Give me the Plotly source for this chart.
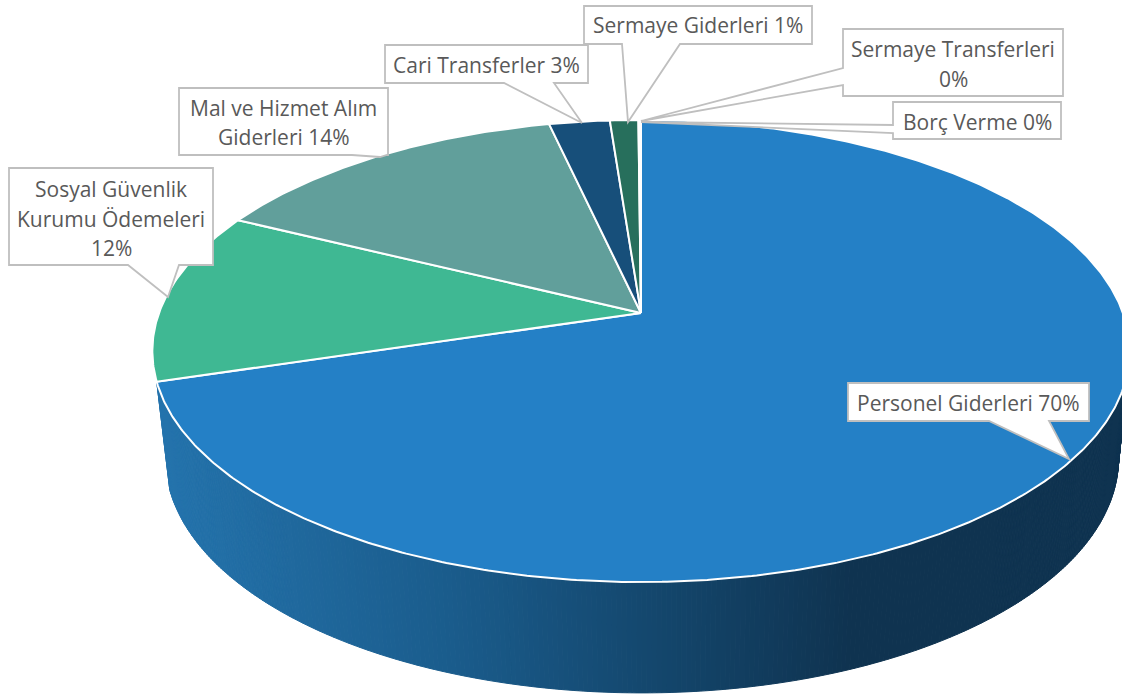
import numpy as np
import plotly.graph_objects as go

# ---- data ----
categories = ["Personel Giderleri", "Sosyal Güvenlik Kurumu Ödemeleri", "Mal ve Hizmet Alım Giderleri",
              "Cari Transferler", "Sermaye Giderleri", "Sermaye Transferleri", "Borç Verme"]
values = [70.3, 12.0, 14.15, 2.35, 1.1, 0.05, 0.05]
percent_labels = ["70%", "12%", "14%", "3%", "1%", "0%", "0%"]
colors = ["#2480C6", "#3FB893", "#619F9B", "#174F7A", "#276F5C", "#2C8A7A", "#2480C6"]

label_text = ["Personel Giderleri 70%", "Sosyal Güvenlik<br>Kurumu Ödemeleri<br>12%", "Mal ve Hizmet Alım<br>Giderleri 14%",
              "Cari Transferler 3%", "Sermaye Giderleri 1%", "Sermaye Transferleri<br>0%", "Borç Verme 0%"]

# ---- projection of the tilted disc ----
K = 0.1645
TOP = dict(x0=641.0, y0=313.0, a=482.0, b=224.8, k=K)
BOT = dict(x0=642.0, y0=420.0, a=470.0, b=228.0, k=K)

def project(theta_deg, p):
    t = np.radians(theta_deg)
    u, v = np.sin(t), np.cos(t)
    d = 1 + p["k"] * v
    return p["x0"] + p["a"] * u / d, p["y0"] - p["b"] * v / d

GRAD = [(165, (0x24, 0x73, 0xAC)), (450, (0x1A, 0x5C, 0x8C)), (640, (0x14, 0x48, 0x6F)),
        (850, (0x0F, 0x33, 0x50)), (1122, (0x0F, 0x33, 0x50))]

def grad_color(x):
    xs = [g[0] for g in GRAD]
    c = [np.interp(x, xs, [g[1][i] for g in GRAD]) for i in range(3)]
    return "rgb(%d,%d,%d)" % tuple(int(round(i)) for i in c)

fig = go.Figure()

shares = np.array(values) / sum(values) * 360
ends = np.cumsum(shares)
starts = ends - shares

# extruded wall of the first slice
wall_start = 99.0
wall_end = float(ends[0])
edges = np.arange(wall_start, wall_end + 0.5, 0.5)
edges[-1] = wall_end
for a0, a1 in zip(edges[:-1], edges[1:]):
    xt, yt = project(np.array([a0, a1]), TOP)
    xb, yb = project(np.array([a1, a0]), BOT)
    col = grad_color((xt.mean() + xb.mean()) / 2)
    fig.add_trace(go.Scatter(x=[*xt, *xb, xt[0]], y=[*yt, *yb, yt[0]], mode="lines", fill="toself",
                             fillcolor=col, line=dict(color=col, width=1), hoverinfo="skip", showlegend=False))

# top faces
for name, s, e, c in zip(categories, starts, ends, colors):
    th = np.linspace(s, e, max(3, int((e - s) * 2)))
    x, y = project(th, TOP)
    x0, y0 = TOP["x0"], TOP["y0"]
    fig.add_trace(go.Scatter(x=[x0, *x, x0], y=[y0, *y, y0], mode="lines", fill="toself", fillcolor=c,
                             line=dict(color="white", width=2), name=name, showlegend=False, hoverinfo="name"))

# callout outlines: box left, right, top, bottom and the pointer
callouts = [
    (848, 1089, 383, 421, "M989,421 L1069,459 L1049,421"),
    (9, 213, 168, 265, "M128,265 L168,297 L179,265"),
    (179, 388, 88, 155, "M352,155 L380,157 L387,155"),
    (385, 588, 45, 83, "M504,83 L582,123 L554,83"),
    (584, 812, 6, 44, "M622,44 L628,122 L680,44"),
    (843, 1063, 29, 96, "M843,68 L641,121 L843,85"),
    (893, 1061, 102, 139, "M893,125 L641,122 L893,133"),
]
TEXT_SHIFT = [1, 2, 1, 1, 0, 1.5, 1.5]
LINE_GAP = 29.5
shapes = []
annotations = []
for (l, r, t, b, ptr), txt, dy in zip(callouts, label_text, TEXT_SHIFT):
    pts = ptr.replace("M", "").replace("L", "").split()
    first, tip, last = pts
    fx, fy = map(float, first.split(","))
    lx, ly = map(float, last.split(","))
    if fy == b:
        path = f"M{l},{t} L{r},{t} L{r},{b} L{lx},{ly} L{tip} L{fx},{fy} L{l},{b} Z"
    else:
        path = f"M{l},{t} L{r},{t} L{r},{b} L{l},{b} L{lx},{ly} L{tip} L{fx},{fy} Z"
    shapes.append(dict(type="path", path=path, xref="x", yref="y", fillcolor="white",
                       line=dict(color="#BFBFBF", width=1.8), layer="above"))
    lines = txt.split("<br>")
    for i, line in enumerate(lines):
        annotations.append(dict(x=(l + r) / 2, y=(t + b) / 2 + dy + (i - (len(lines) - 1) / 2) * LINE_GAP,
                                xref="x", yref="y", text=line, showarrow=False,
                                align="center", xanchor="center", yanchor="middle",
                                font=dict(family="Open Sans", size=21, color="#595959")))

fig.update_layout(
    width=1122, height=695, margin=dict(l=0, r=0, t=0, b=0), paper_bgcolor="white", plot_bgcolor="white",
    xaxis=dict(range=[0, 1122], visible=False, fixedrange=True),
    yaxis=dict(range=[695, 0], visible=False, fixedrange=True),
    shapes=shapes, annotations=annotations, showlegend=False,
)
fig.write_html("out.html", config=dict(displayModeBar=False),
               post_script="document.body.style.margin='0';document.body.style.overflow='hidden';")
